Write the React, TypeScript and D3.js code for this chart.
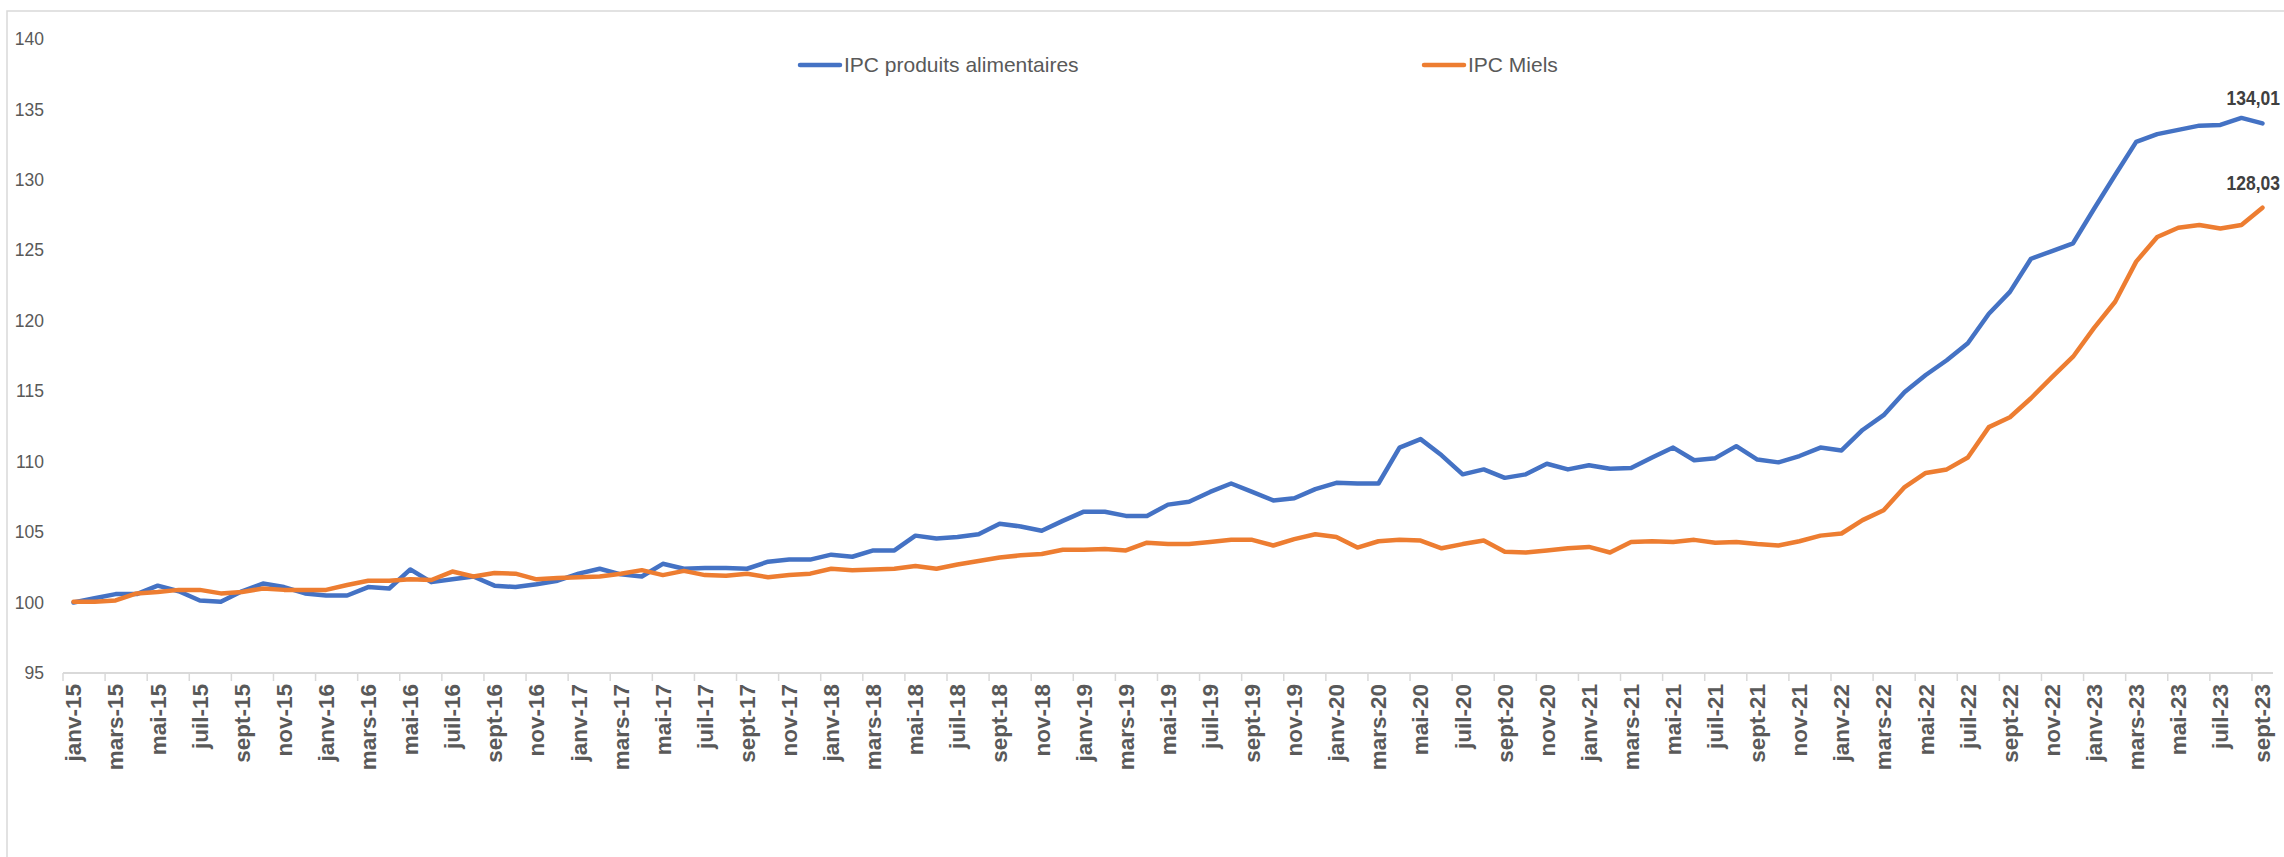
import React from 'react';
import * as d3 from 'd3';

// month abbreviations and years used for the category axis
const months = ['janv', 'févr', 'mars', 'avr', 'mai', 'juin', 'juil', 'août', 'sept', 'oct', 'nov', 'déc'];
const years = ['15', '16', '17', '18', '19', '20', '21', '22', '23'];
const categories: string[] = years.flatMap((y) => months.map((m) => `${m}-${y}`)).slice(0, 105);

const yTicks = [95, 100, 105, 110, 115, 120, 125, 130, 135, 140];

// IPC produits alimentaires (base 100 = janv-15)
const ipcAlim = [
  100, 100.3, 100.6, 100.6, 101.2, 100.8, 100.15, 100.05, 100.8, 101.35,
  101.1, 100.65, 100.5, 100.5, 101.1, 101.0, 102.35, 101.45, 101.65, 101.85,
  101.2, 101.1, 101.3, 101.55, 102.05, 102.4, 102.0, 101.85, 102.75, 102.4,
  102.45, 102.45, 102.4, 102.9, 103.05, 103.05, 103.4, 103.25, 103.7, 103.7,
  104.75, 104.55, 104.65, 104.85, 105.6, 105.4, 105.1, 105.8, 106.45, 106.45,
  106.15, 106.15, 106.95, 107.15, 107.85, 108.45, 107.85, 107.25, 107.4, 108.05,
  108.5, 108.45, 108.45, 111.0, 111.6, 110.45, 109.1, 109.45, 108.85, 109.1,
  109.85, 109.45, 109.75, 109.5, 109.55, 110.3, 111.0, 110.1, 110.25, 111.1,
  110.15, 109.95, 110.4, 111.0, 110.8, 112.25, 113.3, 114.95, 116.15, 117.2,
  118.4, 120.5, 122.05, 124.4, 124.95, 125.5, 127.95, 130.35, 132.7, 133.25,
  133.55, 133.85, 133.9, 134.4, 134.01,
];

// IPC Miels
const ipcMiels = [
  100.05, 100.05, 100.15, 100.65, 100.75, 100.9, 100.9, 100.65, 100.75, 101.0,
  100.9, 100.9, 100.9, 101.25, 101.55, 101.55, 101.65, 101.6, 102.2, 101.85,
  102.1, 102.05, 101.65, 101.75, 101.8, 101.85, 102.05, 102.3, 101.95, 102.25,
  101.95, 101.9, 102.05, 101.8, 101.95, 102.05, 102.4, 102.3, 102.35, 102.4,
  102.6, 102.4, 102.7, 102.95, 103.2, 103.35, 103.45, 103.75, 103.75, 103.8,
  103.7, 104.25, 104.15, 104.15, 104.3, 104.45, 104.45, 104.05, 104.5, 104.85,
  104.65, 103.9, 104.35, 104.45, 104.4, 103.85, 104.15, 104.4, 103.6, 103.55,
  103.7, 103.85, 103.95, 103.55, 104.3, 104.35, 104.3, 104.45, 104.25, 104.3,
  104.15, 104.05, 104.35, 104.75, 104.9, 105.85, 106.55, 108.2, 109.2, 109.45,
  110.3, 112.45, 113.15, 114.5, 116.0, 117.45, 119.5, 121.35, 124.2, 125.95,
  126.6, 126.8, 126.55, 126.8, 128.03,
];

const series = [
  { name: 'IPC produits alimentaires', values: ipcAlim, color: '#4472C4', last: '134,01' },
  { name: 'IPC Miels', values: ipcMiels, color: '#ED7D31', last: '128,03' },
];

const W = 2284;
const H = 857;
const left = 63;
const right = 2273;
const top = 39;
const bottom = 673;
const font = "'Liberation Sans', Arial, sans-serif";

const App = () => {
  const x = d3.scalePoint<string>().domain(categories).range([left, right]).padding(0.5);
  const step = x.step();
  const y = d3.scaleLinear().domain([95, 140]).range([bottom, top]);

  const line = d3
    .line<number>()
    .x((_, i) => x(categories[i]) as number)
    .y((d) => y(d));

  // ticks sit on category boundaries, one every two months
  const tickXs = d3.range(0, categories.length + 1, 2).map((i) => left + i * step);

  const legendPos = [800, 1424];

  return (
    <svg width={W} height={H} style={{ position: 'absolute', left: 0, top: 0, background: '#fff' }}>
      <rect x={7} y={11} width={W + 10} height={H + 10} fill="#fff" stroke="#d9d9d9" strokeWidth={1.5} />

      {/* y axis labels */}
      {yTicks.map((t) => (
        <text key={t} x={44} y={y(t)} dy="0.35em" textAnchor="end" fontFamily={font} fontSize={17.5} fill="#595959">
          {t}
        </text>
      ))}

      {/* x axis */}
      <line x1={left} x2={right} y1={bottom} y2={bottom} stroke="#d9d9d9" strokeWidth={2} />
      {tickXs.map((tx, i) => (
        <line key={i} x1={tx} x2={tx} y1={bottom} y2={bottom + 8} stroke="#d9d9d9" strokeWidth={1.5} />
      ))}
      {categories.map((c, i) =>
        i % 2 === 0 ? (
          <text
            key={c}
            transform={`translate(${x(c)},${bottom + 11}) rotate(-90)`}
            textAnchor="end"
            dy="0.35em"
            fontFamily={font}
            fontWeight="bold"
            fontSize={22.5}
            fill="#595959"
          >
            {c}
          </text>
        ) : null
      )}

      {/* lines */}
      {series.map((s) => (
        <path key={s.name} d={line(s.values) || ''} fill="none" stroke={s.color} strokeWidth={4.5} strokeLinejoin="round" strokeLinecap="round" />
      ))}

      {/* end labels */}
      {series.map((s) => {
        const last = s.values.length - 1;
        const ly = y(s.values[last]) - 18;
        return (
          <text
            key={s.name + '-lbl'}
            transform={`translate(2280,${ly}) scale(1,1.15)`}
            textAnchor="end"
            fontFamily={font}
            fontWeight="bold"
            fontSize={17.5}
            fill="#404040"
          >
            {s.last}
          </text>
        );
      })}

      {/* legend */}
      {series.map((s, i) => (
        <g key={s.name + '-leg'} transform={`translate(${legendPos[i]},65)`}>
          <line x1={0} x2={40} y1={0} y2={0} stroke={s.color} strokeWidth={4.5} strokeLinecap="round" />
          <text x={44} y={0} dy="0.35em" fontFamily={font} fontSize={21} fill="#595959">
            {s.name}
          </text>
        </g>
      ))}
    </svg>
  );
};

export default App;
